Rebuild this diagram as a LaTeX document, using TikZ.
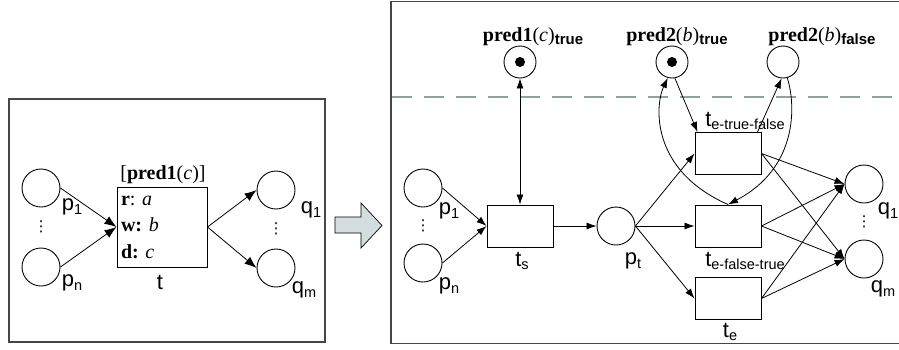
\documentclass[tikz,border=0pt]{standalone}
\usepackage{fontspec}
\setmainfont{Liberation Serif}
\setsansfont{Liberation Sans}
\newfontfamily\symfont{DejaVu Sans}
\usepackage{xcolor}
\usepackage{tikz}
\usetikzlibrary{positioning,calc,arrows.meta}
\definecolor{FrameGray}{RGB}{70,70,70}
\definecolor{DashTeal}{RGB}{140,164,160}
\definecolor{ConvFill}{RGB}{213,222,222}
\newcommand{\lsub}[1]{\raisebox{-3.5pt}{\fontsize{14.5}{15}\selectfont #1}}
\newcommand{\bsub}[1]{\raisebox{-3pt}{\fontsize{15}{15}\selectfont\sffamily\bfseries #1}}
\newcommand{\tallvdots}{{\symfont ⋮}}
\tikzset{
    place/.style={circle, draw=black, line width=0.9pt, minimum size=38pt, inner sep=0pt},
    predplace/.style={place, minimum size=32pt},
    token/.style={circle, fill=black, minimum size=10pt, inner sep=0pt},
    trans/.style={rectangle, draw=black, line width=1pt, minimum width=66pt, minimum height=42pt, inner sep=0pt},
    lab/.style={inner sep=0pt, font=\sffamily\fontsize{22}{24}\selectfont},
    predlab/.style={inner sep=0pt, font=\fontsize{20}{22}\selectfont},
    vdotsnode/.style={inner sep=0pt, font=\fontsize{15}{15}\selectfont},
    arc/.style={-{Latex[length=10pt,width=7pt]}, line width=0.8pt},
    bigarc/.style={-{Latex[length=12pt,width=9pt]}, line width=0.8pt}
}

\begin{document}
\begin{tikzpicture}[
        x=1pt, y=-1pt,
        % --- STYLE ---
        panel/.style={draw=FrameGray, line width=1.2pt},
        % Transition with annotations
        annotbox/.style={
            rectangle,
            draw=black,
            line width=1pt,
            text width=82pt,
            inner xsep=4pt,
            inner ysep=0pt,
            minimum height=80pt,
            align=left,
            font=\fontsize{20}{26.5}\selectfont
        },
        botharc/.style={{Latex[length=10pt,width=7pt]}-{Latex[length=10pt,width=7pt]}, line width=0.8pt}
    ]
    \useasboundingbox (0,0) rectangle (899,349);

    % --- LEFT PANEL ---
    \draw[panel] (9,99) rectangle (325,342);

    \node[place] (lp1) at (41,188) {};
    \node[place] (lpn) at (41,267) {};
    \node[vdotsnode] (lpdots) at (41,227) {\tallvdots};
    \node[annotbox] (t) at (162,227) {\textbf{r}:~\textit{a}\\ \textbf{w:}~\textit{b}\\ \textbf{d:}~\textit{c}};
    \node[place] (lq1) at (276,190) {};
    \node[place] (lqm) at (276,268) {};
    \node[vdotsnode] (lqdots) at (276,229) {\tallvdots};

    \node[predlab] (guard) at (163,175) {[\textbf{pred1}(\textit{c})]};
    \node[lab] (tlab) at (160,282) {t};
    \node[lab] (lp1lab) at (72,207) {p\lsub{1}};
    \node[lab] (lpnlab) at (72,283) {p\lsub{n}};
    \node[lab] (lq1lab) at (311,210) {q\lsub{1}};
    \node[lab] (lqmlab) at (304,290) {q\lsub{m}};

    \foreach \src in {lp1, lpn} {
        \draw[bigarc] (\src.east) -- (t.west);
    }
    \foreach \dst in {lq1, lqm} {
        \draw[bigarc] (t.east) -- (\dst.west);
    }

    % --- CONVERSION ARROW ---
    \draw[fill=ConvFill, line width=0.7pt] (335,217) -- (361,217) -- (361,203) -- (382,225.5)
        -- (361,248) -- (361,233) -- (335,233) -- cycle;

    % --- RIGHT PANEL ---
    \draw[panel] (899,1.5) -- (391,1.5) -- (391,343.5) -- (899,343.5);
    \draw[DashTeal, line width=2.4pt, dash pattern=on 20pt off 12pt] (392,97) -- (899,97);

    % Places for the predicates
    \node[predplace] (c1) at (520,62) {};
    \node[token] (c1tok) at (c1) {};
    \node[predplace] (b1) at (672,62) {};
    \node[token] (b1tok) at (b1) {};
    \node[predplace] (b0) at (783,62) {};
    \node[predlab] (c1lab) at (533,37) {\textbf{pred1}(\textit{c})\bsub{true}};
    \node[predlab] (b1lab) at (677,37) {\textbf{pred2}(\textit{b})\bsub{true}};
    \node[predlab] (b0lab) at (822,37) {\textbf{pred2}(\textit{b})\bsub{false}};

    % Net
    \node[place] (p1) at (423,188) {};
    \node[place] (pn) at (423,263) {};
    \node[vdotsnode] (pdots) at (423,226) {\tallvdots};
    \node[trans] (ts) at (520,226) {};
    \node[place] (pt) at (616,226) {};
    \node[trans] (tetf) at (728,153.5) {};
    \node[trans] (teft) at (728,226) {};
    \node[trans] (te) at (728,298.5) {};
    \node[place] (q1) at (864,184) {};
    \node[place] (qm) at (864,259) {};
    \node[vdotsnode] (qdots) at (864,222) {\tallvdots};

    \node[lab] (p1lab) at (449,211) {p\lsub{1}};
    \node[lab] (pnlab) at (449,286) {p\lsub{n}};
    \node[lab] (tslab) at (522,261) {t\lsub{s}};
    \node[lab] (ptlab) at (633,261) {p\lsub{t}};
    \node[lab] (tetflab) at (745,121) {t\lsub{e-true-false}};
    \node[lab] (teftlab) at (745,261) {t\lsub{e-false-true}};
    \node[lab] (telab) at (730,332) {t\lsub{e}};
    \node[lab] (q1lab) at (888,211) {q\lsub{1}};
    \node[lab] (qmlab) at (883,289) {q\lsub{m}};

    % --- ARCS ---
    \foreach \src in {p1, pn} {
        \draw[arc] (\src.east) -- (ts.west);
    }
    \draw[arc] (ts) -- (pt);
    \foreach \dst in {tetf, teft, te} {
        \draw[arc] (pt.east) -- (\dst.west);
    }
    \foreach \src in {tetf, teft, te} {
        \foreach \dst in {q1, qm} {
            \draw[arc] (\src.east) -- (\dst.west);
        }
    }
    \draw[botharc] (c1) -- (ts);
    \draw[arc] (b1.-80) -- ([xshift=3pt]tetf.north west);
    \draw[arc] ([xshift=-4pt]tetf.north east) -- (b0.-95);
    \draw[arc] (teft.north) .. controls (650,170) and (655,105) .. (b1.-105);
    \draw[arc] (b0.-75) .. controls (796,105) and (798,168) .. (teft.north);

\end{tikzpicture}
\end{document}
